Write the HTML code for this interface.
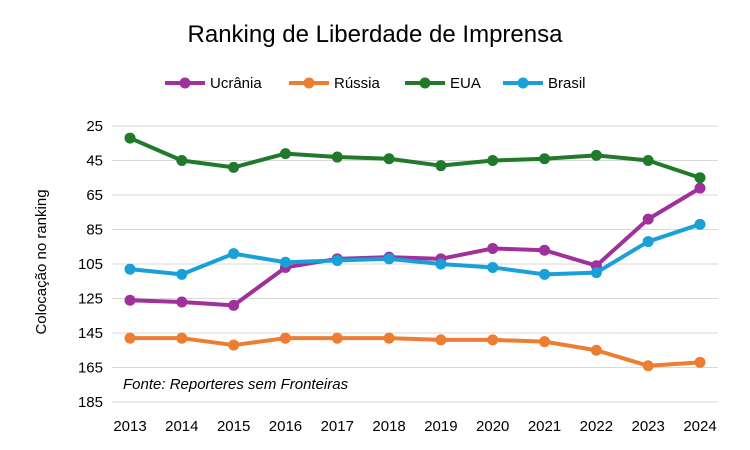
<!DOCTYPE html>
<html><head><meta charset="utf-8"><style>
body{margin:0;background:#fff;font-family:"Liberation Sans",sans-serif}
</style></head><body>
<svg width="750" height="450" style="display:block">
<text x="375" y="42" text-anchor="middle" font-size="24" fill="#000">Ranking de Liberdade de Imprensa</text>
<g id="legend"></g>
<g id="grid"></g>
<g id="yt"></g>
<g id="xt"></g>
<text transform="translate(46,262) rotate(-90)" text-anchor="middle" font-size="15" fill="#000">Colocação no ranking</text>
<text x="123" y="389" font-size="15" font-style="italic" fill="#000">Fonte: Reporteres sem Fronteiras</text>
<g id="series"></g>
</svg>
<script>
const years=[2013,2014,2015,2016,2017,2018,2019,2020,2021,2022,2023,2024];
const yTicks=[25,45,65,85,105,125,145,165,185];
const ucrania=[126,127,129,107,102,101,102,96,97,106,79,61];
const russia=[148,148,152,148,148,148,149,149,150,155,164,162];
const eua=[32,45,49,41,43,44,48,45,44,42,45,55];
const brasil=[108,111,99,104,103,102,105,107,111,110,92,82];
const seriesNames=["Ucrânia","Rússia","EUA","Brasil"];
const seriesColors=["#a0309c","#ed7d31","#217a2b","#1aa0d8"];
const seriesData=[ucrania,russia,eua,brasil];
const NS="http://www.w3.org/2000/svg";
const x0=130,x1=700,yMin=25,yMax=185,py0=126,py1=402;
const sx=i=>x0+(x1-x0)*i/(years.length-1);
const sy=v=>py0+(v-yMin)/(yMax-yMin)*(py1-py0);
function mk(t,a,p){const e=document.createElementNS(NS,t);for(const k in a)e.setAttribute(k,a[k]);p.appendChild(e);return e;}
const grid=document.getElementById('grid'),yt=document.getElementById('yt'),xt=document.getElementById('xt');
yTicks.forEach(v=>{
 const l=mk('line',{x1:112,x2:718,y1:sy(v),y2:sy(v),stroke:'#d9d9d9','stroke-width':1},grid);
 
 
 const t=mk('text',{x:103,y:sy(v)+5,'text-anchor':'end','font-size':15,fill:'#000'},yt);
 t.textContent=v;
 
 
});
years.forEach((y,i)=>{
 const t=mk('text',{x:sx(i),y:431,'text-anchor':'middle','font-size':15,fill:'#000'},xt);
 t.textContent=y;
 
 
});
const sg=document.getElementById('series');
seriesData.forEach((d,s)=>{
 const g=mk('g',{},sg);
 
 
 const p=mk('polyline',{points:d.map((v,i)=>sx(i)+','+sy(v)).join(' '),fill:'none',stroke:seriesColors[s],'stroke-width':4,'stroke-linejoin':'round'},g);
 
 
 d.forEach((v,i)=>{
  const c=mk('circle',{cx:sx(i),cy:sy(v),r:5.5,fill:seriesColors[s]},g);
  
  
 });
});
const lg=document.getElementById('legend');
const lx=[165,289,405,503];
seriesNames.forEach((n,s)=>{
 const g=mk('g',{},lg);
 
 
 mk('line',{x1:lx[s],x2:lx[s]+40,y1:83,y2:83,stroke:seriesColors[s],'stroke-width':4},g);
 mk('circle',{cx:lx[s]+20,cy:83,r:5.5,fill:seriesColors[s]},g);
 const t=mk('text',{x:lx[s]+45,y:88,'font-size':15,fill:'#000'},g);
 t.textContent=n;
});
</script>
</body></html>
